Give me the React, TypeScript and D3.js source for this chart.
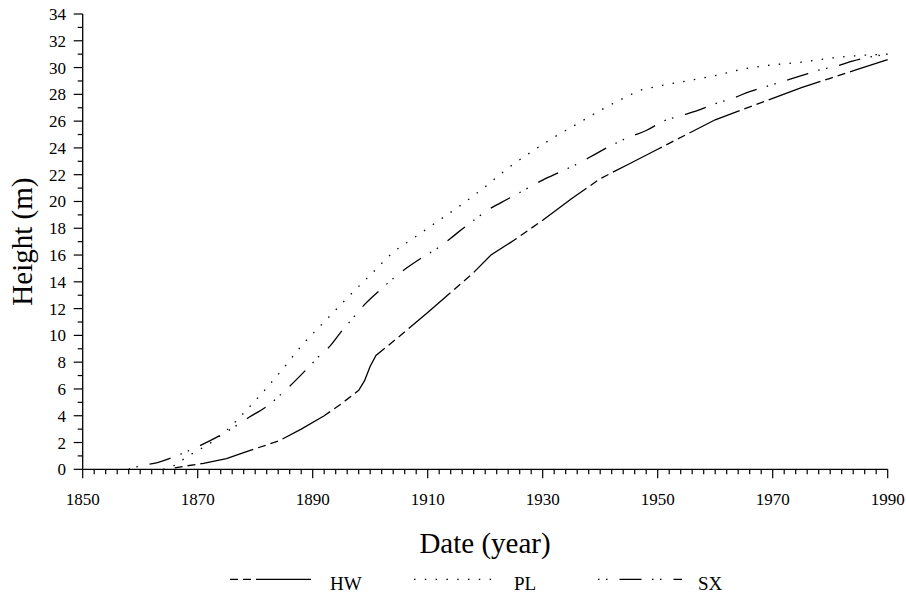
import React from "react";
import * as d3 from "d3";

const hwYears = [1866, 1868, 1871, 1875, 1879, 1884, 1888, 1892, 1895, 1898, 1899, 1900, 1901, 1905, 1910, 1914, 1918, 1921, 1925, 1930, 1935, 1940, 1945, 1950, 1955, 1960, 1965, 1970, 1975, 1980, 1985, 1990];
const hwValues = [0.1, 0.25, 0.45, 0.8, 1.4, 2.1, 3.0, 4.0, 4.9, 5.9, 6.6, 7.7, 8.5, 9.9, 11.7, 13.2, 14.7, 16.0, 17.1, 18.6, 20.2, 21.7, 22.8, 23.9, 25.0, 26.1, 26.9, 27.7, 28.5, 29.2, 29.9, 30.6];

const plYears = [1864, 1866, 1868, 1870, 1872, 1875, 1878, 1881, 1885, 1888, 1892, 1896, 1900, 1904, 1908, 1912, 1916, 1920, 1924, 1928, 1932, 1936, 1940, 1944, 1947, 1950, 1955, 1960, 1965, 1970, 1975, 1980, 1985, 1990];
const plValues = [0, 0.3, 0.9, 1.4, 1.9, 2.9, 4.2, 5.6, 7.6, 9.2, 11.0, 12.8, 14.5, 16.2, 17.4, 18.6, 19.8, 21.1, 22.5, 23.7, 24.8, 25.8, 26.8, 27.7, 28.3, 28.6, 29.0, 29.4, 29.9, 30.2, 30.4, 30.7, 30.9, 31.0];

const sxYears = [1858, 1860, 1863, 1866, 1869, 1872, 1875, 1879, 1882, 1885, 1889, 1891, 1893, 1895, 1897, 1899, 1902, 1905, 1909, 1912, 1915, 1918, 1921, 1924, 1927, 1930, 1933, 1936, 1939, 1942, 1945, 1948, 1951, 1954, 1957, 1960, 1963, 1966, 1969, 1972, 1975, 1978, 1981, 1984, 1987, 1990];
const sxValues = [0, 0.25, 0.5, 0.95, 1.5, 2.1, 2.8, 3.9, 4.7, 5.8, 7.5, 8.4, 9.2, 10.3, 11.3, 12.3, 13.5, 14.6, 15.8, 16.6, 17.6, 18.6, 19.5, 20.2, 20.9, 21.6, 22.2, 22.8, 23.5, 24.2, 24.8, 25.3, 26.0, 26.4, 26.8, 27.3, 27.7, 28.2, 28.6, 29.0, 29.4, 29.8, 30.1, 30.5, 30.8, 31.0];

const seriesNames = ["HW", "PL", "SX"];
const xTickLabels = [1850, 1870, 1890, 1910, 1930, 1950, 1970, 1990];
const yTickLabels = [0, 2, 4, 6, 8, 10, 12, 14, 16, 18, 20, 22, 24, 26, 28, 30, 32, 34];

const W = 906;
const H = 595;
const FONT = "'Liberation Serif', 'Times New Roman', serif";

export default function App() {
  const x = d3.scaleLinear().domain([1850, 1990]).range([82.7, 887.7]);
  const y = d3.scaleLinear().domain([0, 34]).range([469.3, 14]);

  const makeLine = (curve: d3.CurveFactory) =>
    d3
      .line<[number, number]>()
      .x((d) => x(d[0]))
      .y((d) => y(d[1]))
      .curve(curve);

  const series = [
    { name: seriesNames[0], years: hwYears, values: hwValues, dash: "8,5,8,5,55,5", curve: d3.curveLinear },
    { name: seriesNames[1], years: plYears, values: plValues, dash: "1.5,9.3", curve: d3.curveMonotoneX },
    { name: seriesNames[2], years: sxYears, values: sxValues, dash: "1.5,6.5,1.5,12,22,10.5", curve: d3.curveMonotoneX },
  ];

  const minorX = d3.range(1850, 1991, 2);
  const minorY = d3.range(0, 35, 1);
  const axisY = y(0);
  const axisX = x(1850);

  return (
    <svg width={W} height={H} style={{ position: "absolute", left: 0, top: 0 }} fontFamily={FONT}>
      <rect x={0} y={0} width={W} height={H} fill="#fff" />
      <line x1={axisX} x2={x(1990)} y1={axisY} y2={axisY} stroke="#000" strokeWidth={1.3} />
      <line x1={axisX} x2={axisX} y1={y(34)} y2={axisY} stroke="#000" strokeWidth={1.3} />
      {minorX.map((v) => (
        <line
          key={"mx" + v}
          x1={x(v)}
          x2={x(v)}
          y1={axisY}
          y2={axisY + ((v - 1850) % 20 === 0 ? 9 : 5)}
          stroke="#000"
          strokeWidth={1.2}
        />
      ))}
      {minorY.map((v) => (
        <line
          key={"my" + v}
          x1={axisX - (v % 2 === 0 ? 9 : 5)}
          x2={axisX}
          y1={y(v)}
          y2={y(v)}
          stroke="#000"
          strokeWidth={1.2}
        />
      ))}
      {xTickLabels.map((v) => (
        <text key={"xl" + v} x={x(v)} y={505} textAnchor="middle" fontSize={17} fill="#000">
          {v}
        </text>
      ))}
      {yTickLabels.map((v) => (
        <text key={"yl" + v} x={66} y={y(v) + 6} textAnchor="end" fontSize={17} fill="#000">
          {v}
        </text>
      ))}
      <text x={485} y={553} textAnchor="middle" fontSize={29} fill="#000">
        Date (year)
      </text>
      <text transform={`translate(32,${(y(0) + y(34)) / 2}) rotate(-90)`} textAnchor="middle" fontSize={29} fill="#000">
        Height (m)
      </text>
      {series.map((s) => (
        <path
          key={s.name}
          d={makeLine(s.curve)(s.years.map((yr, i) => [yr, s.values[i]] as [number, number])) || ""}
          fill="none"
          stroke="#000"
          strokeWidth={1.3}
          strokeDasharray={s.dash}
        />
      ))}
      {series.map((s, i) => {
        const lx = 230 + i * 184;
        return (
          <g key={"lg" + s.name}>
            <line x1={lx} x2={lx + 84} y1={579.3} y2={579.3} stroke="#000" strokeWidth={1.3} strokeDasharray={s.dash} />
            <text x={lx + 100} y={589.5} fontSize={19} fill="#000">
              {s.name}
            </text>
          </g>
        );
      })}
    </svg>
  );
}
